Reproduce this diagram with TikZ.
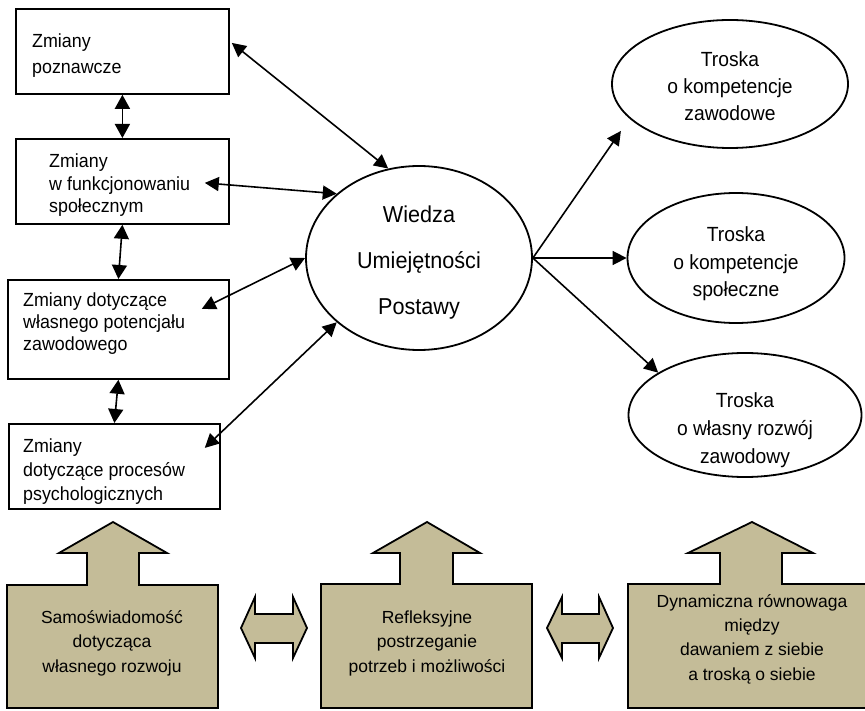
\documentclass[tikz,border=0pt]{standalone}
\usepackage{fontspec}
\setmainfont{Liberation Sans}
\newfontfamily\narrowfont[FakeStretch=0.94]{Liberation Sans}
\usetikzlibrary{arrows.meta,shapes.geometric}
\definecolor{khaki}{RGB}{196,188,152}
\begin{document}
\begin{tikzpicture}[x=1pt,y=-1pt,
  box/.style={draw,line width=1.8pt,fill=white,inner sep=0pt,anchor=north west},
  ell/.style={draw,ellipse,line width=1.8pt,fill=white,inner sep=0pt},
  btext/.style={inner sep=0pt,align=left,anchor=base west},
  etext/.style={inner sep=0pt,align=center,anchor=base},
  con/.style={line width=1.6pt,>={Triangle[length=14pt,width=14pt]},<->},
  vcon/.style={line width=1.6pt,>={Triangle[length=14pt,width=15pt]},<->},
  outarrow/.style={line width=1.6pt,>={Triangle[length=14pt,width=14pt]},->},
  khakishape/.style={draw,line width=1.8pt,fill=khaki,line join=miter}
]
\useasboundingbox (0,0) rectangle (865,711);

% left boxes
\node[box,minimum width=213pt,minimum height=85pt] (b1) at (15,8) {};
\node[box,minimum width=213pt,minimum height=85pt] (b2) at (15,138) {};
\node[box,minimum width=221pt,minimum height=99pt] (b3) at (7,279) {};
\node[box,minimum width=211pt,minimum height=85pt] (b4) at (8,423) {};
\node[btext,font=\narrowfont\fontsize{19}{26}\selectfont] (t1) at (32,74) {Zmiany\\poznawcze};
\node[btext,font=\narrowfont\fontsize{19}{22.5}\selectfont] (t2) at (49,213) {Zmiany\\w funkcjonowaniu\\społecznym};
\node[btext,font=\narrowfont\fontsize{19}{22}\selectfont] (t3) at (23,351) {Zmiany dotyczące\\własnego potencjału\\zawodowego};
\node[btext,font=\narrowfont\fontsize{19}{24}\selectfont] (t4) at (23,500) {Zmiany\\dotyczące procesów\\psychologicznych};

% centre ellipse
\node[ell,minimum width=226pt,minimum height=184pt] (c) at (419,258) {};
\node[etext,font=\narrowfont\fontsize{23}{46}\selectfont] (ct) at (419,315) {Wiedza\\Umiejętności\\Postawy};

% right ellipses
\node[ell,minimum width=236pt,minimum height=128pt] (e1) at (730,84) {};
\node[etext,font=\narrowfont\fontsize{20.5}{27}\selectfont] (et1) at (730,121) {Troska\\o kompetencje\\zawodowe};
\node[ell,minimum width=217pt,minimum height=130pt] (e2) at (736,258) {};
\node[etext,font=\narrowfont\fontsize{20.5}{27.5}\selectfont] (et2) at (736,297) {Troska\\o kompetencje\\społeczne};
\node[ell,minimum width=233pt,minimum height=124pt] (e3) at (745,415) {};
\node[etext,font=\narrowfont\fontsize{20.5}{28}\selectfont] (et3) at (745,463) {Troska\\o własny rozwój\\zawodowy};

% connectors between boxes
\draw[vcon] (b1.south) -- (b2.north);
\draw[vcon] (b2.south) -- (b3.north);
\draw[vcon] (b3.south) -- (b4.north);

% boxes <-> centre
\draw[con] ([xshift=2pt,yshift=8.5pt]b1.east) -- (c.109);
\draw[con] ([xshift=-25pt,yshift=-1.5pt]b2.east) -- (c.142);
\draw[con] ([xshift=-28pt,yshift=20.5pt]b3.east) -- (c.180);
\draw[con] ([xshift=-16pt,yshift=18.5pt]b4.east) -- (c.218);

% centre -> right ellipses
\draw[outarrow,shorten >=15pt] (c.east) -- (e1.199);
\draw[outarrow] (c.east) -- (e2.west);
\draw[outarrow] (c.east) -- (e3.154);

% bottom up-arrow boxes
\draw[khakishape] (7,708) -- (7,585) -- (87,585) -- (87,553) -- (59,553) -- (113,522) -- (167,553) -- (139,553) -- (139,585) -- (218,585) -- (218,708) -- cycle;
\draw[khakishape] (321,708) -- (321,584) -- (400,584) -- (400,553) -- (373,553) -- (427,522) -- (480,553) -- (453,553) -- (453,584) -- (532,584) -- (532,708) -- cycle;
\draw[khakishape] (628,708) -- (628,584) -- (720,584) -- (720,553) -- (688,553) -- (752,522) -- (813,553) -- (782,553) -- (782,584) -- (868,584) -- (868,708) -- cycle;

% horizontal double arrows
\draw[khakishape] (241,628) -- (255,597) -- (255,614) -- (293,614) -- (293,597) -- (307,628) -- (293,658) -- (293,643) -- (255,643) -- (255,658) -- cycle;
\draw[khakishape] (547,628) -- (562,597) -- (562,614) -- (599,614) -- (599,597) -- (613,628) -- (599,658) -- (599,643) -- (562,643) -- (562,658) -- cycle;

% bottom texts
\node[etext,font=\fontsize{17.5}{24.5}\selectfont] (s1) at (112,672) {Samoświadomość\\dotycząca\\własnego rozwoju};
\node[etext,font=\fontsize{17.5}{24.5}\selectfont] (s2) at (427,672) {Refleksyjne\\postrzeganie\\potrzeb i możliwości};
\node[etext,font=\fontsize{17.5}{24.3}\selectfont] (s3) at (752,680) {Dynamiczna równowaga\\między\\dawaniem z siebie\\a troską o siebie};
\end{tikzpicture}
\end{document}
